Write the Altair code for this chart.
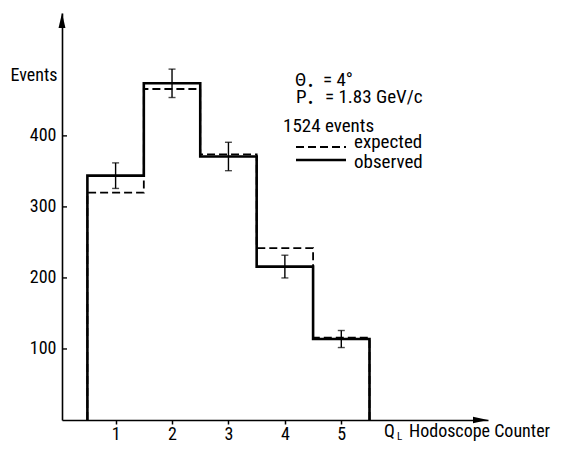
import altair as alt
import pandas as pd

# ---- data ----
counters = [1, 2, 3, 4, 5]
observed = [344, 474, 371, 216, 114]
expected = [320, 466, 374, 242, 116]
errors = [18, 20, 20, 16, 12]
y_tick_values = [100, 200, 300, 400]
x_tick_values = [1, 2, 3, 4, 5]
x_domain = [0.05, 7.6]
y_domain = [0, 573]

FONT = "Roboto Condensed"


def step_table(values):
    rows = [{"x": counters[0] - 0.5, "y": 0, "o": 0}]
    for c, v in zip(counters, values):
        rows.append({"x": c - 0.5, "y": v, "o": len(rows)})
        rows.append({"x": c + 0.5, "y": v, "o": len(rows)})
    rows.append({"x": counters[-1] + 0.5, "y": 0, "o": len(rows)})
    return pd.DataFrame(rows)


obs_df = step_table(observed)
exp_df = step_table(expected)
err_df = pd.DataFrame({
    "x": counters,
    "lo": [v - e for v, e in zip(observed, errors)],
    "hi": [v + e for v, e in zip(observed, errors)],
})
ytick_df = pd.DataFrame({"y": y_tick_values})
one = pd.DataFrame({"a": [0]})

xs = alt.Scale(domain=x_domain, nice=False, zero=False)
ys = alt.Scale(domain=y_domain, nice=False)

x_axis = alt.Axis(values=x_tick_values, title=None, grid=False, domainColor="black",
                  domainWidth=1.6, tickColor="black", tickWidth=1.5, tickSize=4,
                  labelPadding=1, labelFont=FONT, labelFontSize=18, labelColor="black")
y_axis = alt.Axis(values=y_tick_values, ticks=False, tickSize=0, grid=False,
                  domainColor="black", domainWidth=1.6, labelPadding=6,
                  labelFont=FONT, labelFontSize=18, labelColor="black",
                  title="Events", titleAngle=0, titleAlign="right", titleBaseline="middle",
                  titleX=-5, titleY=62, titleFont=FONT, titleFontSize=18,
                  titleFontWeight="normal", titleColor="black")


def X(field):
    return alt.X(field, scale=xs, axis=x_axis)


def Y(field):
    return alt.Y(field, scale=ys, axis=y_axis)


exp_line = alt.Chart(exp_df).mark_line(color="black", strokeWidth=1.8, strokeDash=[8, 4]).encode(
    x=X("x:Q"), y=Y("y:Q"), order="o:Q")
obs_line = alt.Chart(obs_df).mark_line(color="black", strokeWidth=2.6).encode(
    x=X("x:Q"), y=Y("y:Q"), order="o:Q")
err_rule = alt.Chart(err_df).mark_rule(color="black", strokeWidth=1.4).encode(
    x=X("x:Q"), y=Y("lo:Q"), y2="hi:Q")
cap_lo = alt.Chart(err_df).mark_tick(color="black", orient="horizontal", size=7, thickness=1.4).encode(
    x=X("x:Q"), y=Y("lo:Q"))
cap_hi = alt.Chart(err_df).mark_tick(color="black", orient="horizontal", size=7, thickness=1.4).encode(
    x=X("x:Q"), y=Y("hi:Q"))
y_ticks_in = alt.Chart(ytick_df).mark_rule(color="black", strokeWidth=1.4).encode(
    y=Y("y:Q"), x=alt.value(0), x2=alt.value(5))

arrow_up = alt.Chart(pd.DataFrame({"x": [x_domain[0]], "y": [y_domain[1]]})).mark_point(
    shape="M0,0L0.46,2L-0.46,2Z", size=225, filled=True, color="black", opacity=1
).encode(x=X("x:Q"), y=Y("y:Q"))
arrow_right = alt.Chart(pd.DataFrame({"x": [x_domain[1]], "y": [y_domain[0]]})).mark_point(
    shape="M0,0L-2,-0.42L-2,0.42Z", size=225, filled=True, color="black", opacity=1
).encode(x=X("x:Q"), y=Y("y:Q"))


def label(text, px, py, size=19):
    return alt.Chart(one).mark_text(align="left", baseline="middle", font=FONT,
                                    fontSize=size, color="black").encode(
        x=alt.value(px), y=alt.value(py), text=alt.value(text))


def seg(px1, px2, py, dash=None):
    kw = {"color": "black", "strokeWidth": 1.8 if dash else 2.4}
    if dash:
        kw["strokeDash"] = dash
    return alt.Chart(one).mark_rule(**kw).encode(
        x=alt.value(px1), x2=alt.value(px2), y=alt.value(py))


annotations = [
    label("Θ", 233, 67),
    label("•", 246, 73, 15),
    label("= 4°", 261, 67),
    label("P", 234, 84),
    label("•", 246, 90, 15),
    label("= 1.83 GeV/c", 263, 84),
    label("1524  events", 221, 113),
    seg(234, 284, 134, [8, 4]),
    label("expected", 292, 129),
    seg(234, 284, 147),
    label("observed", 292, 149),
    label("Q", 322, 419, 18),
    label("L", 335, 424, 11),
    label("Hodoscope Counter", 347, 419, 18),
]

chart = alt.layer(
    exp_line, obs_line, err_rule, cap_lo, cap_hi, y_ticks_in, arrow_up, arrow_right,
    *annotations,
).properties(
    width=426, height=407,
    autosize=alt.AutoSizeParams(type="none"),
    padding={"left": 54, "top": 5, "right": 69, "bottom": 26},
).configure_view(stroke=None)

chart.save("out.html", embed_options={"renderer": "svg", "actions": False})
